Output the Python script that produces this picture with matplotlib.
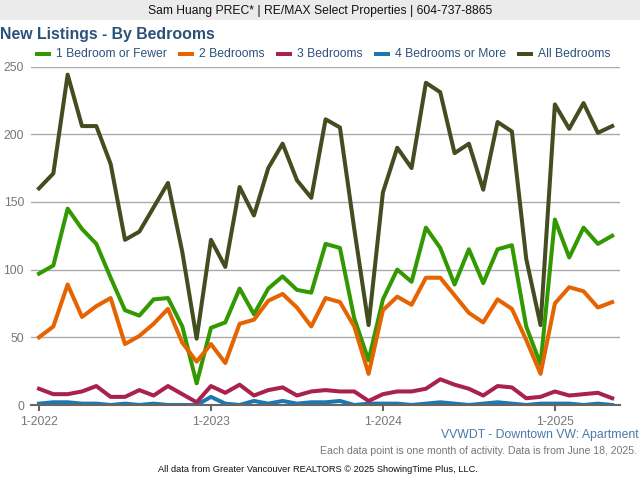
import numpy as np
import matplotlib
matplotlib.use("Agg")
import matplotlib.pyplot as plt
from matplotlib.patches import Rectangle
from matplotlib.lines import Line2D

plt.rcParams['font.family'] = ['Liberation Sans', 'DejaVu Sans']

# new listings per month, 1-2022 to 5-2025
one_bed = [97, 103, 145, 130, 119, 94, 70, 66, 78, 79, 58, 16,
           57, 61, 86, 67, 86, 95, 85, 83, 119, 116, 64, 33,
           78, 100, 91, 131, 116, 89, 115, 90, 115, 118, 58, 30,
           137, 109, 131, 119, 125]
two_bed = [50, 58, 89, 65, 73, 79, 45, 51, 60, 71, 46, 32,
           45, 31, 60, 63, 77, 82, 72, 58, 79, 76, 58, 23,
           70, 80, 74, 94, 94, 81, 68, 61, 78, 71, 48, 23,
           75, 87, 84, 72, 76]
three_bed = [12, 8, 8, 10, 14, 6, 6, 11, 7, 14, 8, 2,
             14, 9, 15, 7, 11, 13, 7, 10, 11, 10, 10, 3,
             8, 10, 10, 12, 19, 15, 12, 7, 14, 13, 5, 6,
             10, 7, 8, 9, 5]
four_bed = [1, 2, 2, 1, 1, 0, 1, 0, 1, 0, 0, 0,
            6, 1, 0, 3, 1, 3, 1, 2, 2, 3, 0, 1,
            1, 1, 0, 1, 2, 1, 0, 1, 2, 1, 0, 1,
            1, 1, 0, 1, 0]
all_bed = [160, 171, 244, 206, 206, 178, 122, 128, 146, 164, 113, 49,
           122, 102, 161, 140, 175, 193, 166, 153, 211, 205, 130, 59,
           157, 190, 175, 238, 231, 186, 193, 159, 209, 202, 108, 59,
           222, 204, 223, 201, 206]

legend_labels = ["1 Bedroom or Fewer", "2 Bedrooms", "3 Bedrooms", "4 Bedrooms or More", "All Bedrooms"]
tick_pos = [0, 12, 24, 36]
tick_labels = ["1-2022", "1-2023", "1-2024", "1-2025"]
y_ticks = [0, 50, 100, 150, 200, 250]

GREEN = "#339900"
ORANGE = "#E56300"
RED = "#A8224C"
BLUE = "#1F77AE"
DARK = "#434D1F"
W, H = 640, 480

fig = plt.figure(figsize=(6.4, 4.8), dpi=100)

# axes box in pixels: x 31-620, y 66.5-405
ax = fig.add_axes([31 / W, (H - 405) / H, 589 / W, 338.5 / H])
ax.set_ylim(0, 250)
ax.set_xlim((31 - 39) / 14.33, (620 - 39) / 14.33)

x = np.arange(len(all_bed))
lw = 2.9
ax.plot(x, all_bed, color=DARK, lw=lw, zorder=3, solid_joinstyle='round')
ax.plot(x, four_bed, color=BLUE, lw=lw, zorder=4, solid_joinstyle='round')
ax.plot(x, one_bed, color=GREEN, lw=lw, zorder=5, solid_joinstyle='round')
ax.plot(x, two_bed, color=ORANGE, lw=lw, zorder=6, solid_joinstyle='round')
ax.plot(x, three_bed, color=RED, lw=lw, zorder=7, solid_joinstyle='round')

for s in ['top', 'left', 'right']:
    ax.spines[s].set_visible(False)
ax.spines['bottom'].set_color("#666666")
ax.spines['bottom'].set_linewidth(1.5)
ax.spines['bottom'].set_zorder(8)

ax.set_yticks(y_ticks)
ax.set_xticks(tick_pos)
ax.set_xticklabels(tick_labels)
ax.tick_params(axis='y', length=0, pad=5, labelsize=8.8, labelcolor="#777777")
ax.tick_params(axis='x', length=4, width=1.5, color="#666666", pad=4, labelsize=8.8, labelcolor="#777777")
ax.grid(axis='y', color="#AAAAAA", lw=1, zorder=1)
ax.set_axisbelow(True)

# header band
fig.add_artist(Rectangle((0, (H - 20) / H), 1, 20 / H, transform=fig.transFigure, color="#EBEBEB", lw=0))
fig.text(320 / W, 1 - 11 / H, "Sam Huang PREC* | RE/MAX Select Properties | 604-737-8865",
         ha='center', va='center', fontsize=8.7, color="#111111")
fig.text(0.5 / W, 1 - 34.5 / H, "New Listings - By Bedrooms", ha='left', va='center',
         fontsize=11.4, fontweight='bold', color="#2B5278")

# legend placed by hand to line up the gaps
handle_x = [35, 178, 276, 374, 517]
cols = [GREEN, ORANGE, RED, BLUE, DARK]
for hx, c, lab in zip(handle_x, cols, legend_labels):
    fig.add_artist(Line2D([hx / W, (hx + 16) / W], [1 - 54 / H, 1 - 54 / H],
                          transform=fig.transFigure, color=c, lw=2.9, solid_capstyle='butt'))
    fig.text((hx + 21) / W, 1 - 54 / H, lab, ha='left', va='center', fontsize=8.7, color="#2B5278")

fig.text(639 / W, 1 - 435 / H, "VVWDT - Downtown VW: Apartment", ha='right', va='center',
         fontsize=8.8, color="#4A78A8")
fig.text(637 / W, 1 - 451.5 / H, "Each data point is one month of activity. Data is from June 18, 2025.",
         ha='right', va='center', fontsize=7.55, color="#777777")
fig.text(158 / W, 1 - 470 / H, "All data from Greater Vancouver REALTORS \u00a9 2025 ShowingTime Plus, LLC.",
         ha='left', va='center', fontsize=6.7, color="#111111")

fig.savefig("out.png", dpi=100)
